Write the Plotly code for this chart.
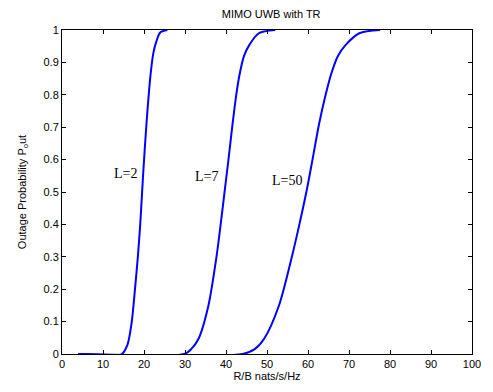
import plotly.graph_objects as go

# Data
x_L2 = [4, 14.6, 16.0, 17.0, 17.8, 18.5, 19.1, 19.8, 20.6, 21.6, 22.3, 23.0, 24.0, 25.7]
y_L2 = [0, 0, 0.03, 0.098, 0.2, 0.3, 0.404, 0.557, 0.71, 0.862, 0.93, 0.964, 0.993, 1.0]

x_L7 = [4, 29.8, 31.5, 33.3, 35.7, 37.7, 38.7, 39.7, 40.6, 41.6, 42.5, 43.3, 44.4, 45.7, 48.0, 52.0]
y_L7 = [0, 0, 0.015, 0.047, 0.149, 0.302, 0.4, 0.506, 0.6, 0.71, 0.8, 0.862, 0.92, 0.954, 0.99, 1.0]

x_L50 = [4, 44.1, 47.0, 49.3, 52.9, 56.1, 57.9, 59.7, 61.1, 62.7, 64.3, 65.6, 67.3, 69.2, 72.5, 77.6]
y_L50 = [0, 0, 0.015, 0.047, 0.149, 0.302, 0.4, 0.506, 0.6, 0.71, 0.8, 0.862, 0.92, 0.954, 0.99, 1.0]

labels = ["L=2", "L=7", "L=50"]
label_x = [15.5, 35.3, 54.8]
label_y = [0.557, 0.547, 0.535]

x_ticks = [0, 10, 20, 30, 40, 50, 60, 70, 80, 90, 100]
y_ticks = [0, 0.1, 0.2, 0.3, 0.4, 0.5, 0.6, 0.7, 0.8, 0.9, 1]
y_tick_text = ["0", "0.1", "0.2", "0.3", "0.4", "0.5", "0.6", "0.7", "0.8", "0.9", "1"]

fig = go.Figure()
for xs, ys in [(x_L2, y_L2), (x_L7, y_L7), (x_L50, y_L50)]:
    fig.add_trace(go.Scatter(x=xs, y=ys, mode="lines",
                             line=dict(color="#0000FF", width=2, shape="spline", smoothing=0.8),
                             showlegend=False, hoverinfo="skip"))

for t, lx, ly in zip(labels, label_x, label_y):
    fig.add_annotation(x=lx, y=ly, text=t, showarrow=False,
                       font=dict(family="Liberation Serif, Times New Roman, serif", size=14, color="#000000"))

axis_common = dict(showline=True, linecolor="#000000", linewidth=1, mirror="ticks",
                   ticks="inside", ticklen=4, tickcolor="#000000", showgrid=False,
                   zeroline=False,
                   tickfont=dict(family="Liberation Sans, Arial, sans-serif", size=11, color="#000000"))

fig.update_xaxes(range=[0, 100], tickvals=x_ticks,
                 title=dict(text="R/B nats/s/Hz", standoff=2,
                            font=dict(family="Liberation Sans, Arial, sans-serif", size=11, color="#000000")),
                 **axis_common)
fig.update_yaxes(range=[0, 1], tickvals=y_ticks, ticktext=y_tick_text,
                 title=dict(text="Outage Probability P<sub>o</sub>ut", standoff=14,
                            font=dict(family="Liberation Sans, Arial, sans-serif", size=11, color="#000000")),
                 **axis_common)

fig.update_layout(
    width=493, height=392,
    margin=dict(l=62, r=13, t=30, b=35),
    paper_bgcolor="white", plot_bgcolor="white",
    title=dict(text="MIMO UWB with TR", x=0.55, xanchor="center", y=0.965, yanchor="middle",
               font=dict(family="Liberation Sans, Arial, sans-serif", size=11, color="#000000")),
)

fig.write_html("out.html")
